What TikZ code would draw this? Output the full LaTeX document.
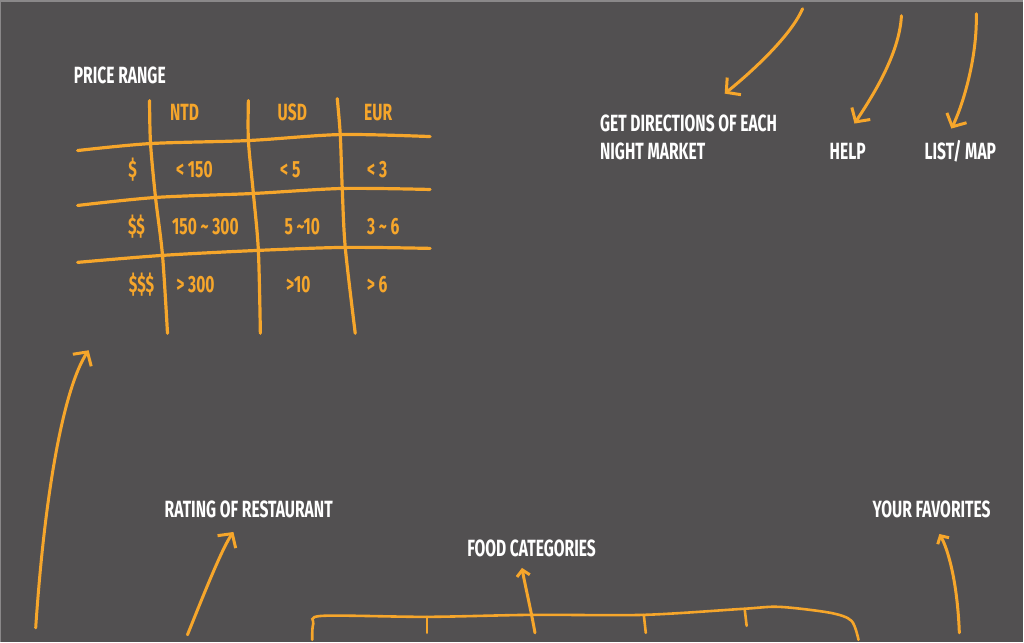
\documentclass[tikz,border=0pt]{standalone}
\usepackage{fontspec}
\setmainfont{Fira Sans}[FakeStretch=0.665]
\usetikzlibrary{arrows.meta}
\definecolor{board}{HTML}{525051}
\definecolor{boardedge}{HTML}{8A8889}
\definecolor{chalk}{HTML}{F6A62B}

\begin{document}
\begin{tikzpicture}[x=1pt,y=-1pt,
    caption/.style={font=\bfseries\fontsize{23.5}{23.5}\selectfont, text=white, inner sep=0pt, anchor=west},
    cell/.style={font=\bfseries\fontsize{23.5}{23.5}\selectfont, text=chalk, inner sep=0pt},
    gridline/.style={chalk, line width=3.2pt, line cap=round},
    pointer/.style={chalk, line width=3pt, line cap=round, -{Straight Barb[length=10pt,width=22pt,line width=3pt]}},
    smallpointer/.style={pointer, -{Straight Barb[length=6pt,width=13pt,line width=3pt]}}]
  % board
  \fill[board] (0,0) rectangle (1024,642);
  \draw[boardedge, line width=1.5pt] (0,642) -- (0,0) -- (1024,0);

  % price table
  \node[caption] (price) at (73,75) {PRICE RANGE};
  \draw[gridline] plot[smooth] coordinates {(77,150) (150,143) (248,140) (340,134) (430,136)};
  \draw[gridline] plot[smooth] coordinates {(77,205) (155,197) (253,193) (342,188) (430,189)};
  \draw[gridline] plot[smooth] coordinates {(77,262) (162,255) (258,250) (345,247) (430,248)};
  \draw[gridline] plot[smooth] coordinates {(149,100) (150,143) (155,197) (162,255) (167,333)};
  \draw[gridline] plot[smooth] coordinates {(248,100) (248,140) (253,193) (258,250) (260,333)};
  \draw[gridline] plot[smooth] coordinates {(337,98) (340,134) (342,188) (345,247) (355,333)};
  \node[cell] (ntd) at (184,112) {NTD};
  \node[cell] (usd) at (292,112) {USD};
  \node[cell] (eur) at (378,112) {EUR};
  \node[cell] (one) at (132,169) {\$};
  \node[cell] (two) at (136,226) {\$\$};
  \node[cell] (three) at (141,284) {\$\$\$};
  \node[cell] (ntdone) at (194,169) {< 150};
  \node[cell] (usdone) at (290,169) {< 5};
  \node[cell] (eurone) at (377,169) {< 3};
  \node[cell] (ntdtwo) at (205,226) {150 \char`~\ 300};
  \node[cell] (usdtwo) at (302,226) {5 \char`~10};
  \node[cell] (eurtwo) at (383,226) {3 \char`~\ 6};
  \node[cell] (ntdthree) at (195,284) {> 300};
  \node[cell] (usdthree) at (298,284) {>10};
  \node[cell] (eurthree) at (377,284) {> 6};

  % top labels
  \node[caption] (directions) at (600,123) {GET DIRECTIONS OF EACH};
  \node[caption] (market) at (600,151) {NIGHT MARKET};
  \node[caption] (help) at (830,151) {HELP};
  \node[caption] (listmap) at (925,151) {LIST/ MAP};
  \coordinate (dirfrom) at (803,8);
  \coordinate (dirto) at (725,93);
  \coordinate (helpfrom) at (902,15);
  \coordinate (helpto) at (855,123);
  \coordinate (listfrom) at (977,13);
  \coordinate (listto) at (952,128);
  \draw[pointer] (dirfrom) .. controls (790,38) and (745,77) .. (dirto);
  \draw[pointer] (helpfrom) .. controls (900,55) and (870,100) .. (helpto);
  \draw[pointer] (listfrom) .. controls (978,60) and (962,108) .. (listto);

  % left arrow
  \coordinate (leftfrom) at (35,628);
  \coordinate (leftto) at (88,350);
  \draw[pointer] (leftfrom) .. controls (45,480) and (65,385) .. (leftto);

  % bottom labels
  \node[caption] (rating) at (164,509) {RATING OF RESTAURANT};
  \node[caption] (food) at (467,548) {FOOD CATEGORIES};
  \node[caption] (favorites) at (873,509) {YOUR FAVORITES};
  \coordinate (ratingfrom) at (187,635);
  \coordinate (ratingto) at (233,532);
  \draw[pointer] (ratingfrom) .. controls (205,590) and (222,548) .. (ratingto);

  % category bracket
  \draw[gridline, line width=2.6pt] plot[smooth, tension=0.5] coordinates {(312,640) (313,624) (322,616) (427,617) (531,615) (644,615) (743,609) (780,607) (831,613) (852,621) (859,640)};
  \draw[gridline, line width=2.6pt] (427,617) -- (427,633);
  \draw[gridline, line width=2.6pt] (644,615) -- (646,633);
  \draw[gridline, line width=2.6pt] (745,609) -- (747,626);
  \coordinate (foodfrom) at (535,633);
  \coordinate (foodto) at (522,568);
  \draw[smallpointer] (foodfrom) .. controls (531,610) and (525,585) .. (foodto);
  \coordinate (favfrom) at (960,633);
  \coordinate (favto) at (940,534);
  \draw[smallpointer] (favfrom) .. controls (958,580) and (948,548) .. (favto);
\end{tikzpicture}
\end{document}
